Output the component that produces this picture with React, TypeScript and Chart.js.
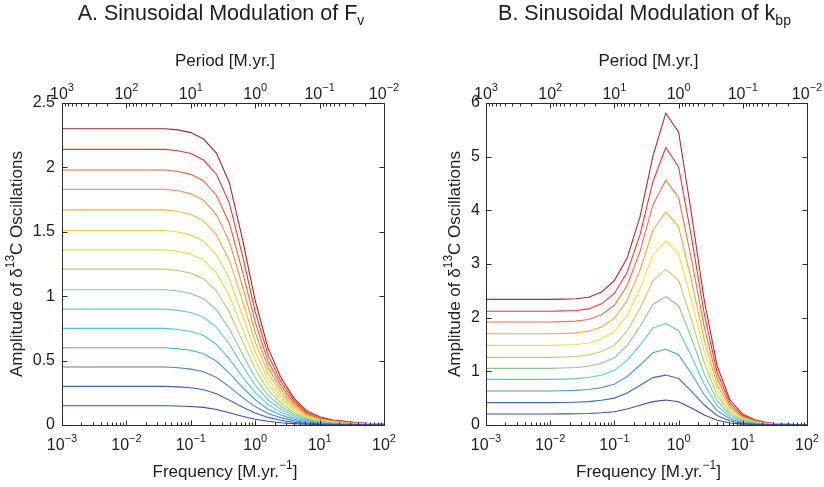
import React, { useEffect, useRef } from "react";
import { Chart, registerables } from "chart.js";
Chart.register(...registerables);

// ---------- data ----------
const frequency = [0.001, 0.00158, 0.00251, 0.00398, 0.00631, 0.01, 0.0158, 0.0251, 0.0398, 0.0631, 0.1, 0.158, 0.251, 0.398, 0.631, 1, 1.58, 2.51, 3.98, 6.31, 10, 15.8, 25.1, 39.8, 63.1, 100];
const decadeTicks = [0.001, 0.01, 0.1, 1, 10, 100];
const frequencyExponents = ["\u22123", "\u22122", "\u22121", "0", "1", "2"];
const periodExponents = ["3", "2", "1", "0", "\u22121", "\u22122"];

const fvYTicks = [0, 0.5, 1, 1.5, 2, 2.5];
const fvYLabels = ["0", "0.5", "1", "1.5", "2", "2.5"];
const kbpYTicks = [0, 1, 2, 3, 4, 5, 6];
const kbpYLabels = ["0", "1", "2", "3", "4", "5", "6"];

// Panel A: modulation of F_v (bottom curve first)
const fv01 = [0.15, 0.15, 0.15, 0.15, 0.15, 0.15, 0.15, 0.15, 0.15, 0.148, 0.144, 0.137, 0.120, 0.095, 0.068, 0.045, 0.029, 0.018, 0.011, 0.006, 0.003, 0.002, 0.001, 0.001, 0.0005, 0.0003];
const fv02 = [0.30, 0.30, 0.30, 0.30, 0.30, 0.30, 0.30, 0.30, 0.30, 0.296, 0.289, 0.274, 0.242, 0.193, 0.139, 0.093, 0.059, 0.037, 0.021, 0.012, 0.0067, 0.004, 0.0025, 0.0016, 0.001, 0.0006];
const fv03 = [0.45, 0.45, 0.45, 0.45, 0.45, 0.45, 0.45, 0.45, 0.45, 0.444, 0.434, 0.413, 0.368, 0.296, 0.214, 0.143, 0.090, 0.057, 0.033, 0.018, 0.010, 0.006, 0.0038, 0.0024, 0.0014, 0.0009];
const fv04 = [0.60, 0.60, 0.60, 0.60, 0.60, 0.60, 0.60, 0.60, 0.60, 0.592, 0.580, 0.553, 0.495, 0.402, 0.293, 0.196, 0.123, 0.077, 0.045, 0.025, 0.014, 0.0084, 0.0053, 0.0034, 0.002, 0.0013];
const fv05 = [0.75, 0.75, 0.75, 0.75, 0.75, 0.75, 0.75, 0.75, 0.75, 0.741, 0.726, 0.695, 0.625, 0.512, 0.376, 0.251, 0.158, 0.098, 0.057, 0.031, 0.018, 0.011, 0.007, 0.0043, 0.0027, 0.0017];
const fv06 = [0.90, 0.90, 0.90, 0.90, 0.90, 0.90, 0.90, 0.90, 0.90, 0.890, 0.873, 0.837, 0.758, 0.627, 0.463, 0.309, 0.194, 0.121, 0.070, 0.038, 0.022, 0.013, 0.0085, 0.0053, 0.0033, 0.002];
const fv07 = [1.05, 1.05, 1.05, 1.05, 1.05, 1.05, 1.05, 1.05, 1.05, 1.040, 1.021, 0.981, 0.893, 0.746, 0.553, 0.369, 0.231, 0.144, 0.083, 0.045, 0.026, 0.016, 0.010, 0.0064, 0.004, 0.0025];
const fv08 = [1.21, 1.21, 1.21, 1.21, 1.21, 1.21, 1.21, 1.21, 1.21, 1.199, 1.179, 1.135, 1.039, 0.876, 0.653, 0.436, 0.272, 0.169, 0.097, 0.053, 0.030, 0.018, 0.012, 0.0079, 0.0048, 0.003];
const fv09 = [1.36, 1.36, 1.36, 1.36, 1.36, 1.36, 1.36, 1.36, 1.36, 1.348, 1.326, 1.280, 1.179, 1.002, 0.752, 0.502, 0.313, 0.194, 0.112, 0.060, 0.034, 0.021, 0.014, 0.0091, 0.0056, 0.0035];
const fv10 = [1.51, 1.51, 1.51, 1.51, 1.51, 1.51, 1.51, 1.51, 1.51, 1.498, 1.475, 1.427, 1.321, 1.133, 0.855, 0.569, 0.355, 0.220, 0.126, 0.067, 0.038, 0.024, 0.016, 0.010, 0.0064, 0.004];
const fv11 = [1.67, 1.67, 1.67, 1.67, 1.67, 1.67, 1.67, 1.67, 1.67, 1.658, 1.635, 1.585, 1.476, 1.276, 0.967, 0.645, 0.401, 0.249, 0.142, 0.075, 0.042, 0.027, 0.018, 0.012, 0.0074, 0.0046];
const fv12 = [1.83, 1.83, 1.83, 1.83, 1.83, 1.83, 1.83, 1.83, 1.83, 1.819, 1.795, 1.744, 1.632, 1.422, 1.082, 0.721, 0.448, 0.276, 0.158, 0.082, 0.047, 0.030, 0.020, 0.013, 0.0083, 0.005];
const fv13 = [1.98, 1.98, 1.98, 1.98, 1.98, 1.98, 1.98, 1.98, 1.98, 1.968, 1.946, 1.895, 1.782, 1.564, 1.196, 0.798, 0.495, 0.305, 0.174, 0.089, 0.051, 0.032, 0.022, 0.014, 0.009, 0.0057];
const fv14 = [2.14, 2.14, 2.14, 2.14, 2.14, 2.14, 2.14, 2.14, 2.14, 2.129, 2.108, 2.057, 1.945, 1.721, 1.320, 0.880, 0.546, 0.336, 0.192, 0.097, 0.055, 0.035, 0.025, 0.016, 0.010, 0.0062];
const fv15 = [2.30, 2.30, 2.30, 2.30, 2.30, 2.30, 2.30, 2.30, 2.30, 2.291, 2.270, 2.220, 2.109, 1.879, 1.449, 0.966, 0.598, 0.368, 0.209, 0.110, 0.064, 0.039, 0.028, 0.018, 0.0115, 0.007];

// Panel B: modulation of k_bp (bottom curve first)
const kbp01 = [0.205, 0.205, 0.205, 0.205, 0.205, 0.205, 0.207, 0.209, 0.215, 0.228, 0.248, 0.297, 0.367, 0.435, 0.466, 0.433, 0.317, 0.186, 0.089, 0.037, 0.016, 0.0075, 0.0033, 0.0016, 0.0008, 0.0004];
const kbp02 = [0.416, 0.416, 0.416, 0.416, 0.416, 0.416, 0.418, 0.424, 0.435, 0.460, 0.501, 0.598, 0.739, 0.883, 0.93, 0.865, 0.632, 0.372, 0.177, 0.074, 0.032, 0.015, 0.0065, 0.0033, 0.0016, 0.0007];
const kbp03 = [0.634, 0.634, 0.634, 0.634, 0.634, 0.634, 0.637, 0.645, 0.661, 0.697, 0.760, 0.904, 1.118, 1.347, 1.41, 1.311, 0.959, 0.564, 0.268, 0.113, 0.048, 0.023, 0.0099, 0.0049, 0.0024, 0.0011];
const kbp04 = [0.851, 0.851, 0.851, 0.851, 0.851, 0.851, 0.855, 0.864, 0.885, 0.932, 1.014, 1.203, 1.490, 1.809, 1.89, 1.758, 1.285, 0.756, 0.359, 0.151, 0.064, 0.030, 0.013, 0.0066, 0.0032, 0.0015];
const kbp05 = [1.056, 1.056, 1.056, 1.056, 1.056, 1.056, 1.061, 1.071, 1.095, 1.151, 1.252, 1.481, 1.835, 2.247, 2.39, 2.223, 1.625, 0.956, 0.454, 0.191, 0.081, 0.038, 0.017, 0.0084, 0.0041, 0.0019];
const kbp06 = [1.261, 1.261, 1.261, 1.261, 1.261, 1.261, 1.267, 1.277, 1.303, 1.368, 1.488, 1.753, 2.175, 2.686, 2.90, 2.697, 1.972, 1.16, 0.551, 0.232, 0.099, 0.046, 0.020, 0.010, 0.0049, 0.0023];
const kbp07 = [1.484, 1.484, 1.484, 1.484, 1.484, 1.484, 1.490, 1.500, 1.529, 1.603, 1.742, 2.045, 2.541, 3.164, 3.43, 3.19, 2.332, 1.372, 0.652, 0.274, 0.117, 0.055, 0.024, 0.012, 0.0058, 0.0027];
const kbp08 = [1.70, 1.70, 1.70, 1.70, 1.70, 1.70, 1.706, 1.716, 1.746, 1.828, 1.986, 2.322, 2.888, 3.628, 3.97, 3.692, 2.70, 1.588, 0.754, 0.318, 0.135, 0.064, 0.028, 0.014, 0.0067, 0.0032];
const kbp09 = [1.92, 1.92, 1.92, 1.92, 1.92, 1.92, 1.926, 1.935, 1.965, 2.054, 2.231, 2.600, 3.237, 4.101, 4.56, 4.241, 3.101, 1.824, 0.866, 0.365, 0.155, 0.073, 0.032, 0.016, 0.0078, 0.0036];
const kbp10 = [2.12, 2.12, 2.12, 2.12, 2.12, 2.12, 2.126, 2.134, 2.163, 2.258, 2.451, 2.845, 3.547, 4.533, 5.17, 4.808, 3.516, 2.068, 0.982, 0.414, 0.176, 0.083, 0.036, 0.018, 0.0088, 0.0041];
const kbp11 = [2.34, 2.34, 2.34, 2.34, 2.34, 2.34, 2.345, 2.352, 2.380, 2.480, 2.691, 3.112, 3.884, 5.008, 5.81, 5.46, 3.951, 2.324, 1.104, 0.465, 0.198, 0.093, 0.041, 0.020, 0.0099, 0.0046];

const fvSeries = [fv01, fv02, fv03, fv04, fv05, fv06, fv07, fv08, fv09, fv10, fv11, fv12, fv13, fv14, fv15];
const kbpSeries = [kbp01, kbp02, kbp03, kbp04, kbp05, kbp06, kbp07, kbp08, kbp09, kbp10, kbp11];

const fvColors = ["#3b4fa8", "#3f63bb", "#4a82cf", "#46a6e0", "#4fc3e6", "#6cc8c9", "#86c98e", "#b0d46a", "#dde04a", "#f5d03a", "#f8b03a", "#f58a3c", "#ee5e3c", "#e03a3a", "#a52a2a"];
const kbpColors = ["#3b50aa", "#3e66c0", "#4a9ad8", "#5cc6e0", "#8cc88a", "#b4d260", "#ece040", "#f8a83a", "#f07040", "#e63c3c", "#a83030"];

// ---------- drawing helpers ----------
const FONT = '"Liberation Sans", Arial, Helvetica, sans-serif';
const TEXT = "#1e1e1e";
const AXIS = "#2b2b2b";

type Part = { t: string; size: number; dy: number };

function drawRich(ctx: CanvasRenderingContext2D, parts: Part[], x: number, y: number, align: "center" | "left" | "right") {
  let total = 0;
  const widths = parts.map((p) => {
    ctx.font = `${p.size}px ${FONT}`;
    const w = ctx.measureText(p.t).width;
    total += w;
    return w;
  });
  let cx = align === "center" ? x - total / 2 : align === "right" ? x - total : x;
  ctx.textAlign = "left";
  ctx.textBaseline = "alphabetic";
  parts.forEach((p, i) => {
    ctx.font = `${p.size}px ${FONT}`;
    ctx.fillText(p.t, cx, y + p.dy);
    cx += widths[i];
  });
}

type PanelProps = {
  left: number;
  padLeft: number;
  padRight: number;
  yMax: number;
  yTicks: number[];
  yLabels: string[];
  series: number[][];
  colors: string[];
  title: string;
  titleSub: string;
  yTitleX: number;
  yLabelGap: number;
};

function Panel(props: PanelProps) {
  const ref = useRef<HTMLCanvasElement>(null);
  useEffect(() => {
    const canvas = ref.current!;
    const datasets = props.series.map((vals, i) => ({
      data: vals.map((v, j) => ({ x: frequency[j], y: v })),
      borderColor: props.colors[i],
      backgroundColor: props.colors[i],
      borderWidth: 1.1,
      pointRadius: 0,
      fill: false,
      tension: 0,
    }));

    const overlay = {
      id: "overlay",
      afterDraw(chart: any) {
        const ctx: CanvasRenderingContext2D = chart.ctx;
        const xs = chart.scales.x;
        const ys = chart.scales.y;
        const { left, right, top, bottom } = chart.chartArea;
        const cxMid = (left + right) / 2;
        ctx.save();
        ctx.strokeStyle = AXIS;
        ctx.lineWidth = 1;
        const L = Math.round(left) + 0.5, R = Math.round(right) + 0.5, T = Math.round(top) + 0.5, B = Math.round(bottom) + 0.5;
        ctx.strokeRect(L, T, R - L, B - T);
        const seg = (x1: number, y1: number, x2: number, y2: number) => {
          ctx.beginPath();
          ctx.moveTo(x1, y1);
          ctx.lineTo(x2, y2);
          ctx.stroke();
        };
        // x ticks (bottom: frequency, top: period)
        for (let d = 0; d < decadeTicks.length; d++) {
          const px = Math.round(xs.getPixelForValue(decadeTicks[d])) + 0.5;
          seg(px, B, px, B - 5);
          seg(px, T, px, T + 5);
          if (d < decadeTicks.length - 1) {
            for (let m = 2; m <= 9; m++) {
              const pb = Math.round(xs.getPixelForValue(decadeTicks[d] * m)) + 0.5;
              seg(pb, B, pb, B - 3);
              const pt = Math.round(xs.getPixelForValue(decadeTicks[d + 1] / m)) + 0.5;
              seg(pt, T, pt, T + 3);
            }
          }
        }
        // y ticks
        props.yTicks.forEach((v) => {
          const py = Math.round(ys.getPixelForValue(v)) + 0.5;
          seg(L, py, L + 5, py);
          seg(R, py, R - 5, py);
        });

        ctx.fillStyle = TEXT;
        // x tick labels
        decadeTicks.forEach((v, i) => {
          const px = xs.getPixelForValue(v);
          drawRich(ctx, [{ t: "10", size: 16, dy: 0 }, { t: frequencyExponents[i], size: 11, dy: -8 }], px, bottom + 25, "center");
          drawRich(ctx, [{ t: "10", size: 16, dy: 0 }, { t: periodExponents[i], size: 11, dy: -8 }], px, top - 4, "center");
        });
        // y tick labels
        props.yTicks.forEach((v, i) => {
          const py = ys.getPixelForValue(v);
          ctx.font = `16px ${FONT}`;
          ctx.textAlign = "right";
          ctx.textBaseline = "middle";
          ctx.fillText(props.yLabels[i], left - props.yLabelGap, py);
        });
        // axis titles
        drawRich(ctx, [{ t: "Period [M.yr.]", size: 17, dy: 0 }], cxMid + 2, 66, "center");
        drawRich(ctx, [
          { t: "Frequency [M.yr.", size: 17, dy: 0 },
          { t: "\u22121", size: 12, dy: -8 },
          { t: "]", size: 17, dy: 0 },
        ], cxMid + 2, 477, "center");
        // main title
        drawRich(ctx, [
          { t: props.title, size: 21.5, dy: 0 },
          { t: props.titleSub, size: 14, dy: 5 },
        ], cxMid - 2, 20, "center");
        // y title
        ctx.save();
        ctx.translate(props.yTitleX, (top + bottom) / 2);
        ctx.rotate(-Math.PI / 2);
        drawRich(ctx, [
          { t: "Amplitude of \u03b4", size: 17, dy: 0 },
          { t: "13", size: 12, dy: -8 },
          { t: "C Oscillations", size: 17, dy: 0 },
        ], 0, 0, "center");
        ctx.restore();
        ctx.restore();
      },
    };

    const chart = new Chart(canvas, {
      type: "line",
      data: { datasets } as any,
      options: {
        animation: false,
        responsive: false,
        devicePixelRatio: 1,
        layout: { padding: { left: props.padLeft, right: props.padRight, top: 103, bottom: 62 } },
        plugins: { legend: { display: false }, tooltip: { enabled: false }, title: { display: false } },
        scales: {
          x: { type: "logarithmic", min: 0.001, max: 100, display: false },
          y: { type: "linear", min: 0, max: props.yMax, display: false },
        },
      } as any,
      plugins: [overlay],
    });
    return () => chart.destroy();
  }, []);
  return (
    <canvas
      ref={ref}
      width={412}
      height={487}
      style={{ position: "absolute", left: props.left, top: 0, width: 412, height: 487 }}
    />
  );
}

export default function App() {
  return (
    <div style={{ position: "absolute", left: 0, top: 0, width: 824, height: 487, background: "#ffffff" }}>
      <Panel
        left={0}
        padLeft={62}
        padRight={28}
        yMax={2.5}
        yTicks={fvYTicks}
        yLabels={fvYLabels}
        series={fvSeries}
        colors={fvColors}
        title="A. Sinusoidal Modulation of F"
        titleSub="v"
        yTitleX={22}
        yLabelGap={7}
      />
      <Panel
        left={412}
        padLeft={74}
        padRight={17}
        yMax={6}
        yTicks={kbpYTicks}
        yLabels={kbpYLabels}
        series={kbpSeries}
        colors={kbpColors}
        title="B. Sinusoidal Modulation of k"
        titleSub="bp"
        yTitleX={48}
        yLabelGap={6}
      />
    </div>
  );
}
